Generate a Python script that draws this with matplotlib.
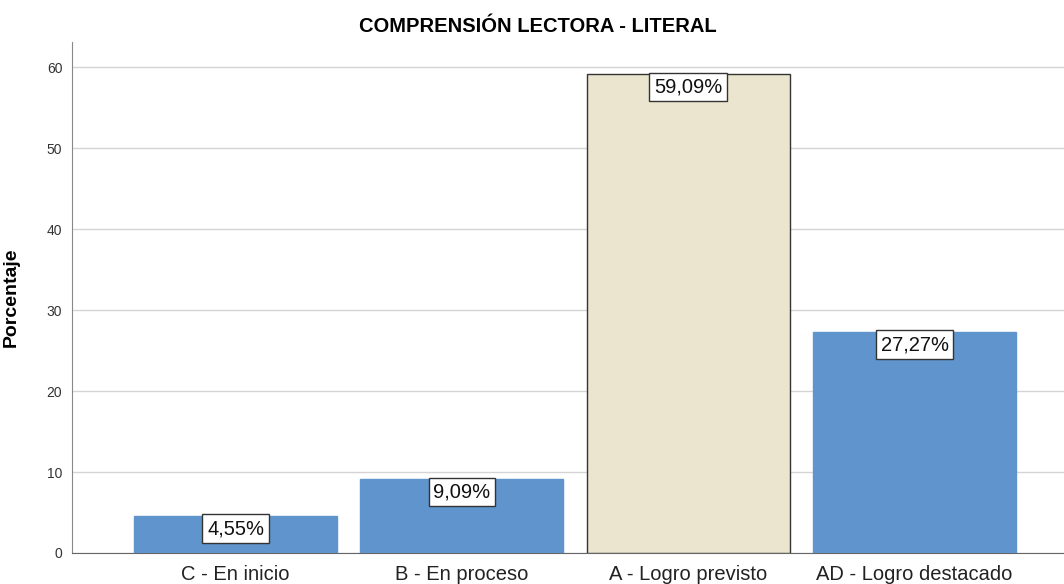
import matplotlib.pyplot as plt

plt.rcParams['font.family'] = ['Liberation Sans', 'DejaVu Sans']

categories = ['C - En inicio', 'B - En proceso', 'A - Logro previsto', 'AD - Logro destacado']
values = [4.55, 9.09, 59.09, 27.27]
labels = ['4,55%', '9,09%', '59,09%', '27,27%']
colors = ['#5f94cd', '#5f94cd', '#ebe5cf', '#5f94cd']
edges = ['#5f94cd', '#5f94cd', '#333333', '#5f94cd']

fig = plt.figure(figsize=(10.64, 5.84), dpi=100)
ax = fig.add_axes([0.0677, 0.0531, 0.9323, 0.875])

x = range(len(categories))
ax.bar(x, values, width=0.897, color=colors, edgecolor=edges, linewidth=1, zorder=3)

# value labels boxed just under the top of each bar
for xi, v, lab in zip(x, values, labels):
    ax.annotate(lab, (xi, v), xytext=(0, -2.2), textcoords='offset points',
                ha='center', va='top', fontsize=14.5, color='#111111', zorder=4,
                bbox=dict(boxstyle='square,pad=0.24', fc='white', ec='#333333', lw=1))

ax.set_xlim(-0.723, 3.66)
ax.set_ylim(0, 63.1)
ax.set_yticks([0, 10, 20, 30, 40, 50, 60])
ax.set_xticks(list(x))
ax.set_xticklabels(categories, fontsize=14.5)
ax.tick_params(axis='y', labelsize=10, length=0, pad=7, colors='#333333')
ax.tick_params(axis='x', length=0, pad=9, colors='#222222')
ax.grid(axis='y', color='#d4d4d4', linewidth=1, zorder=0)

for s in ['top', 'right']:
    ax.spines[s].set_visible(False)
ax.spines['left'].set_color('#888888')
ax.spines['bottom'].set_color('#666666')

ax.set_ylabel('Porcentaje', fontsize=14, fontweight='bold')
ax.yaxis.set_label_coords(-0.053, 0.5)
fig.text(0.505, 0.955, 'COMPRENSIÓN LECTORA - LITERAL', ha='center', va='center',
         fontsize=14.5, fontweight='bold')

fig.savefig('out.png', dpi=100)
